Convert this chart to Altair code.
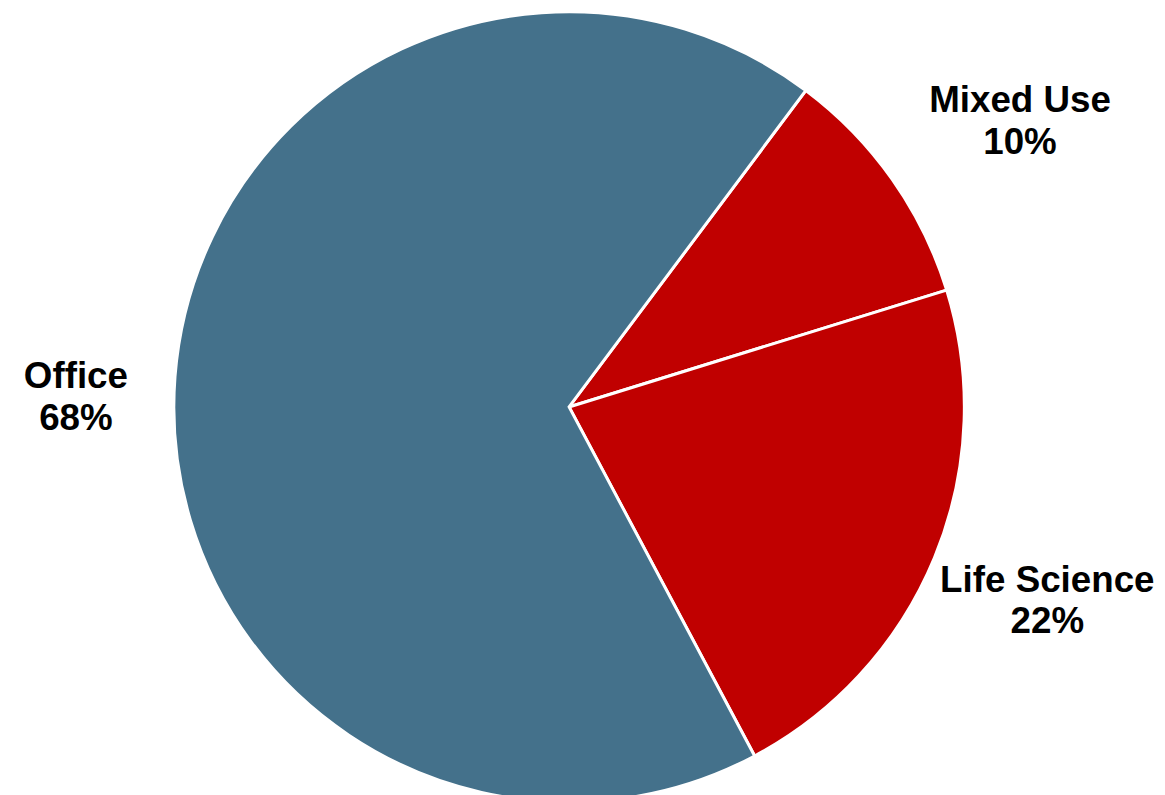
import math
import altair as alt
import pandas as pd

categories = ["Mixed Use", "Life Science", "Office"]
shares = [10, 22, 68]
labels = ["Mixed Use\n10%", "Life Science\n22%", "Office\n68%"]
order = [1, 2, 3]
colors = ["#C00000", "#C00000", "#44718B"]

df = pd.DataFrame({"category": categories, "share": shares, "label": labels, "order": order})

start = math.radians(36.8)
theta_scale = alt.Scale(domain=[0, 100], range=[start, start + 2 * math.pi])
color_scale = alt.Scale(domain=categories, range=colors)

CX, CY, R = 565, 399, 398

pie = alt.Chart(df).mark_arc(stroke="white", strokeWidth=3, outerRadius=R).encode(
    theta=alt.Theta("share:Q", stack=True, scale=theta_scale),
    order=alt.Order("order:Q", sort="ascending"),
    color=alt.Color("category:N", scale=color_scale, legend=None),
    x=alt.value(CX),
    y=alt.value(CY),
)

text_base = alt.Chart(df).transform_window(
    cum="sum(share)", sort=[alt.SortField("order", order="ascending")]
).transform_calculate(mid="datum.cum - datum.share / 2")

offsets = {"Mixed Use": (70, -37), "Life Science": (47, -4), "Office": (-28, 6)}
text_layers = []
for cat in categories:
    dx, dy = offsets[cat]
    t = text_base.transform_filter(alt.datum.category == cat).mark_text(
        radius=470, fontSize=37, fontWeight="bold", font="Liberation Sans",
        lineBreak="\n", lineHeight=42, align="center", baseline="middle",
        color="black", dx=dx, dy=dy,
    ).encode(
        theta=alt.Theta("mid:Q", stack=None, scale=theta_scale),
        text="label:N", x=alt.value(CX), y=alt.value(CY),
    )
    text_layers.append(t)

chart = alt.layer(pie, *text_layers).properties(
    width=1157, height=787,
    autosize=alt.AutoSizeParams(type="none"),
    padding=0,
).configure_view(stroke=None)

chart.save("out.html", embed_options={"renderer": "svg", "actions": False})
